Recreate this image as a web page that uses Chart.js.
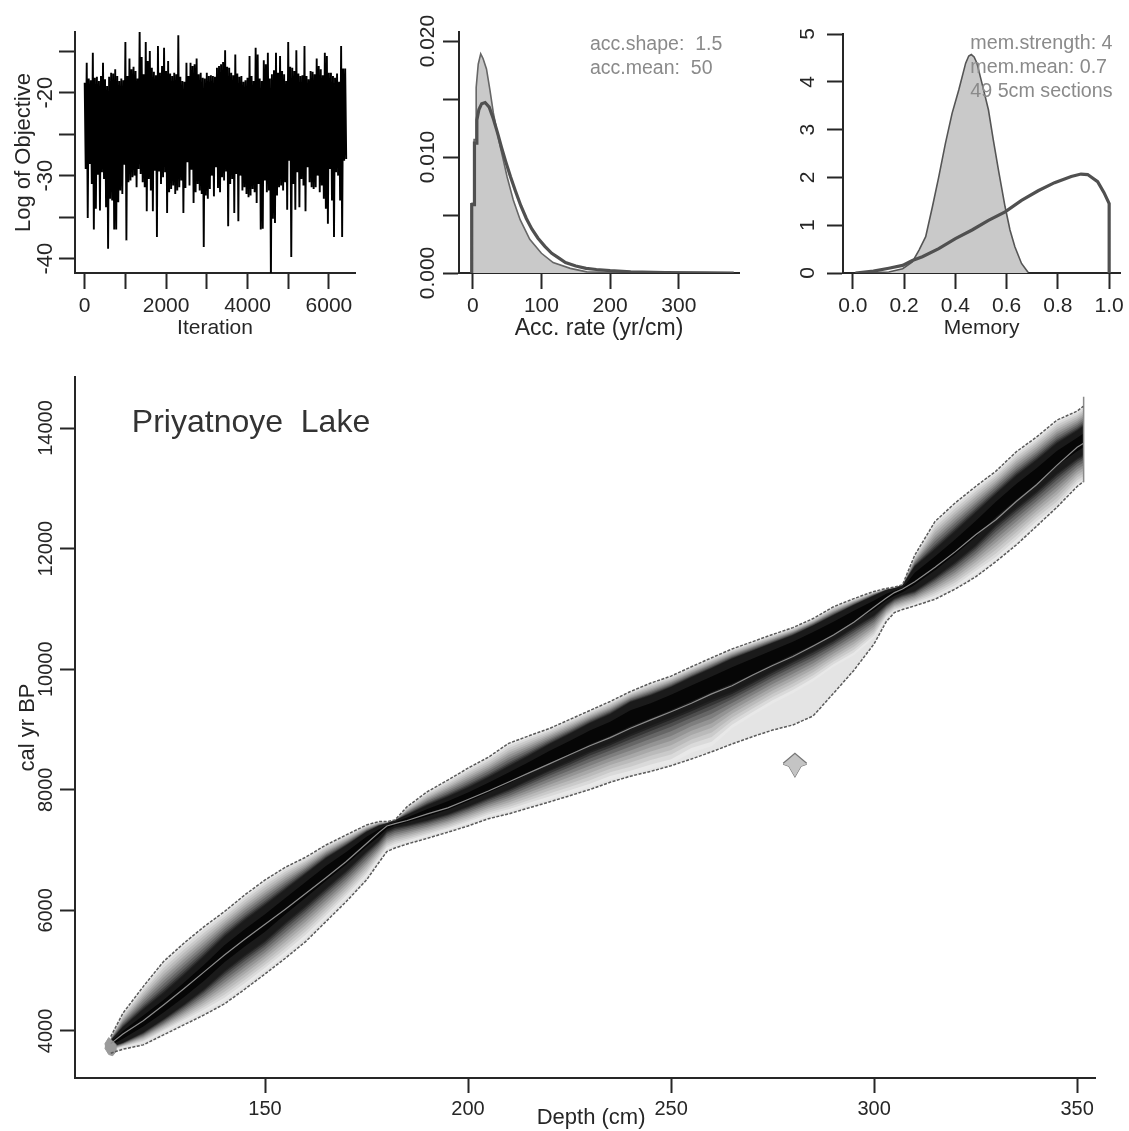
<!DOCTYPE html>
<html>
<head>
<meta charset="utf-8">
<title>Priyatnoye Lake age model</title>
<script src="https://cdn.jsdelivr.net/npm/chart.js@4"></script>
<style>
  html, body { margin: 0; padding: 0; background: #fff; }
  #page { position: relative; width: 1129px; height: 1131px; overflow: hidden; }
  canvas { position: absolute; filter: blur(0.6px); }
</style>
</head>
<body>
<div id="page">
  <canvas id="traceChart" width="370" height="345" style="left:0;top:0"></canvas>
  <canvas id="accChart" width="350" height="345" style="left:400px;top:0"></canvas>
  <canvas id="memChart" width="346" height="345" style="left:783px;top:0"></canvas>
  <canvas id="ageChart" width="1129" height="771" style="left:0;top:360px"></canvas>
</div>
<script>
// log of objective, upper and lower swing every 50 iterations
var traceStep = 50;
var traceHigh = [
  -18.8,-16.4,-18.3,-18.5,-15.2,-18.2,-18.1,-18.6,-18.0,-16.4,
  -18.4,-19.2,-18.1,-17.6,-17.7,-17.2,-18.0,-18.6,-18.3,-18.5,
  -13.9,-18.0,-15.9,-17.2,-16.9,-17.4,-18.3,-12.4,-15.7,-17.8,
  -13.9,-16.2,-15.0,-17.0,-17.5,-17.9,-14.4,-17.6,-16.8,-14.6,
  -17.4,-16.2,-17.7,-18.0,-17.6,-17.8,-13.1,-18.1,-18.6,-18.7,
  -16.4,-18.0,-16.4,-16.8,-16.6,-15.9,-17.8,-17.6,-18.2,-18.3,
  -17.6,-18.0,-17.9,-18.0,-18.1,-17.0,-16.8,-16.6,-16.3,-14.9,
  -16.9,-17.0,-17.6,-17.9,-15.4,-17.7,-18.1,-18.0,-18.7,-18.5,
  -18.2,-15.6,-18.0,-18.6,-14.6,-15.4,-18.3,-18.6,-16.1,-16.6,
  -15.2,-18.3,-17.8,-17.3,-15.2,-17.6,-15.6,-17.4,-17.8,-18.6,
  -13.9,-16.9,-17.0,-17.4,-14.9,-17.7,-18.0,-17.9,-14.4,-18.0,
  -18.4,-17.4,-17.5,-17.8,-15.9,-16.8,-17.2,-17.9,-15.2,-15.6,
  -17.6,-17.6,-18.0,-18.2,-17.7,-18.7,-14.4,-17.1,-17.1
];
var traceLow = [
  -29.2,-35.1,-28.6,-31.0,-36.5,-34.0,-29.9,-34.2,-29.6,-30.4,
  -33.8,-38.8,-32.8,-33.0,-36.5,-36.5,-33.2,-31.8,-32.2,-28.7,
  -37.8,-30.8,-30.6,-30.2,-30.0,-31.4,-29.2,-29.8,-30.8,-31.4,
  -34.3,-30.4,-31.8,-34.3,-29.4,-37.4,-29.5,-31.0,-30.2,-29.6,
  -34.5,-32.0,-31.6,-31.2,-32.2,-31.8,-31.4,-30.6,-34.5,-31.5,
  -28.4,-31.2,-29.3,-33.3,-32.0,-31.0,-31.8,-32.2,-38.6,-32.4,
  -32.8,-31.6,-30.0,-32.5,-29.0,-31.5,-32.0,-30.2,-30.6,-29.5,
  -36.1,-31.0,-30.4,-34.5,-29.8,-35.5,-30.0,-31.8,-31.4,-32.2,
  -32.6,-32.4,-31.6,-32.0,-33.3,-31.0,-36.5,-36.4,-30.6,-32.0,
  -31.8,-42.5,-35.2,-35.7,-32.4,-31.4,-31.2,-31.8,-30.8,-34.1,
  -28.2,-39.8,-31.0,-34.1,-29.6,-33.8,-30.4,-31.2,-34.3,-29.0,
  -30.8,-31.4,-31.6,-31.4,-30.0,-32.0,-31.2,-32.8,-34.0,-35.8,
  -29.2,-33.0,-37.4,-29.6,-30.0,-33.0,-37.4,-28.2,-28.0
];
var iterTicks = [0, 1000, 2000, 3000, 4000, 5000, 6000];
var iterLabels = ['0', '', '2000', '', '4000', '', '6000'];
var objTicks = [-40, -35, -30, -25, -20, -15];
var objLabels = ['-40', '', '-30', '', '-20', ''];

// accumulation rate: posterior histogram and gamma prior
var histRate = [-1, -1, 2, 2, 5, 5, 8, 11.6, 15, 20, 25, 30, 35, 40, 45, 50, 59, 69, 83, 100, 117, 142, 166, 200, 260, 375];
var histDens = [0, .0060, .0060, .0115, .0115, .0160, .0180, .0189, .0185, .0176, .0158, .0138, .0123, .0109, .0096, .0083, .0063, .0046, .0029, .0017, .0009, .0004, .0001, .00005, .00002, 0];
var priorRate = [-1.5, -1.5, 2.5, 2.5, 6, 6, 9, 13, 18, 24, 30, 36, 42, 48, 55, 62, 70, 78, 86, 95, 105, 115, 125, 135, 150, 165, 180, 200, 230, 280, 340, 380];
var priorDens = [0, .0059, .0059, .0112, .0112, .0132, .0141, .0146, .0147, .0143, .0133, .0121, .0108, .0096, .0083, .0071, .0058, .0047, .0038, .0030, .0023, .0017, .0013, .0009, .0006, .0004, .0003, .0002, .0001, .00003, .00001, 0];
var rateTicks = [0, 100, 200, 300];
var rateLabels = ['0', '100', '200', '300'];
var densTicks = [0, .005, .01, .015, .02];
var densLabels = ['0.000', '', '0.010', '', '0.020'];
var accNotes = ['acc.shape:  1.5', 'acc.mean:  50'];

// memory: posterior and beta prior
var postMem = [.01, .08, .14, .194, .232, .258, .284, .31, .335, .361, .387, .413, .44, .452, .462, .473, .484, .51, .529, .548, .568, .594, .613, .632, .658, .684];
var postDens = [0, .01, .02, .09, .23, .48, .76, 1.38, 2.01, 2.71, 3.34, 3.83, 4.39, 4.54, 4.57, 4.52, 4.39, 3.83, 3.41, 2.78, 2.15, 1.38, .9, .55, .2, .01];
var priorMem = [.01, .08, .14, .194, .232, .271, .335, .4, .465, .529, .594, .658, .723, .787, .852, .89, .916, .955, .98, 1, 1];
var priorMemDens = [0, .04, .1, .16, .26, .34, .51, .72, .9, 1.1, 1.28, 1.52, 1.72, 1.89, 2.02, 2.07, 2.06, 1.91, 1.68, 1.45, 0];
var memTicks = [0, .2, .4, .6, .8, 1];
var memLabels = ['0.0', '0.2', '0.4', '0.6', '0.8', '1.0'];
var memDensTicks = [0, 1, 2, 3, 4, 5];
var memDensLabels = ['0', '1', '2', '3', '4', '5'];
var memNotes = ['mem.strength: 4', 'mem.mean: 0.7', '49 5cm sections'];

// age-depth model, all read at the same depths
var depth = [112, 115, 120, 125, 130, 135, 140, 145, 150, 155, 160, 165, 170, 175, 178, 180, 182, 185, 190, 195,
  200, 205, 210, 215, 220, 225, 230, 235, 240, 245, 250, 255, 260, 265, 270, 275, 280, 285, 290, 295,
  300, 303, 305, 307, 310, 315, 320, 325, 330, 335, 340, 345, 350, 351.5];
var ageUpper = [3907, 4294, 4736, 5151, 5455, 5731, 5980, 6256, 6505, 6715, 6881, 7085, 7251, 7417, 7472, 7472, 7500, 7720, 7970, 8160,
  8360, 8540, 8770, 8895, 9015, 9165, 9315, 9465, 9630, 9770, 9885, 10040, 10190, 10335, 10455, 10575, 10690, 10840, 11036, 11170,
  11290, 11340, 11360, 11400, 11890, 12450, 12760, 13030, 13285, 13605, 13850, 14130, 14280, 14360];
var coreTop = [3840, 4060, 4350, 4620, 4920, 5230, 5560, 5830, 6080, 6340, 6600, 6860, 7070, 7300, 7400, 7440, 7490, 7580, 7740, 7880,
  8030, 8200, 8380, 8560, 8750, 8920, 9100, 9250, 9450, 9560, 9700, 9860, 10010, 10170, 10300, 10430, 10560, 10720, 10890, 11060,
  11220, 11310, 11340, 11390, 11700, 11980, 12280, 12590, 12900, 13200, 13460, 13740, 13950, 14020];
var ageMean = [3790, 3950, 4170, 4430, 4700, 4980, 5260, 5520, 5770, 6020, 6280, 6540, 6810, 7110, 7290, 7400, 7440, 7490, 7600, 7700,
  7840, 7980, 8130, 8280, 8430, 8580, 8730, 8865, 9020, 9160, 9295, 9435, 9590, 9725, 9900, 10060, 10210, 10385, 10566, 10780,
  11030, 11180, 11270, 11330, 11450, 11690, 11950, 12230, 12480, 12780, 13060, 13380, 13680, 13744];
var coreBottom = [3740, 3810, 3980, 4200, 4440, 4700, 5000, 5260, 5500, 5800, 6080, 6370, 6660, 6980, 7160, 7320, 7380, 7420, 7500, 7600,
  7730, 7870, 8010, 8170, 8330, 8480, 8640, 8770, 8920, 9060, 9200, 9340, 9490, 9620, 9790, 9970, 10140, 10300, 10480, 10700,
  10900, 11080, 11180, 11240, 11300, 11530, 11780, 12060, 12400, 12680, 12950, 13250, 13500, 13560];
var fadeLower = [3670, 3730, 3810, 3980, 4150, 4320, 4500, 4740, 5000, 5260, 5540, 5870, 6200, 6560, 6830, 7010, 7070, 7130, 7230, 7330,
  7440, 7560, 7640, 7740, 7840, 7940, 8040, 8170, 8250, 8350, 8430, 8620, 8720, 9020, 9230, 9430, 9600, 9800, 10040, 10230,
  10520, 10850, 10960, 11000, 11070, 11190, 11350, 11580, 11800, 12090, 12400, 12660, 13040, 13110];
var ageLower = [3631, 3697, 3769, 3935, 4101, 4266, 4449, 4692, 4946, 5206, 5482, 5814, 6146, 6505, 6790, 6975, 7035, 7100, 7196, 7295,
  7400, 7520, 7600, 7700, 7798, 7900, 8005, 8125, 8225, 8305, 8400, 8510, 8630, 8760, 8880, 8990, 9075, 9225, 9600, 9980,
  10420, 10790, 10940, 10990, 11050, 11160, 11330, 11530, 11785, 12060, 12370, 12685, 13030, 13108];
// calibrated date blobs
var dateDepth = [277.6, 279, 280.5, 282, 283.4];
var dateTop = [8440, 8520, 8604, 8520, 8440];
var dateBottom = [8425, 8390, 8217, 8390, 8425];
var firstDepth = [110.5, 111.5, 112.5, 113.5];
var firstTop = [3780, 3890, 3830, 3760];
var firstBottom = [3720, 3610, 3590, 3680];
var lastDepth = [351.6, 351.6];
var lastAge = [14518, 13100];
var depthTicks = [150, 200, 250, 300, 350];
var depthLabels = ['150', '200', '250', '300', '350'];
var ageTicks = [4000, 6000, 8000, 10000, 12000, 14000];
var ageLabels = ['4000', '6000', '8000', '10000', '12000', '14000'];

// shading of the age density, outer to inner
var shadeSteps = [1, .9, .8, .7, .6, .5, .4, .3, .2, .12, .05];
var shadeGreys = [232, 218, 202, 186, 168, 148, 126, 102, 78, 54, 34];

var FONT = '"Liberation Sans", Arial, sans-serif';
var INK = '#262626';

function pts(xs, ys) {
  return xs.map(function (x, i) { return { x: x, y: ys[i] }; });
}

function between(a, b, f) {
  return a.map(function (v, i) { return v + (b[i] - v) * f; });
}

function line(data, color, width, extra) {
  return Object.assign({ data: data, borderColor: color, borderWidth: width, pointRadius: 0, fill: false, tension: 0 }, extra || {});
}

function axis(cfg) {
  var vertical = cfg.vertical;
  return {
    type: 'linear',
    min: cfg.min,
    max: cfg.max,
    afterFit: function (s) {
      if (vertical) s.width = cfg.size; else s.height = cfg.size;
    },
    afterBuildTicks: function (s) {
      s.ticks = cfg.ticks.map(function (v) { return { value: v }; });
    },
    border: { display: true, color: INK, width: 2 },
    grid: { display: true, drawOnChartArea: false, drawTicks: true, tickLength: cfg.tick, tickWidth: 2, tickColor: INK },
    ticks: {
      autoSkip: false,
      color: INK,
      font: { family: FONT, size: cfg.font },
      padding: cfg.pad,
      minRotation: vertical ? 90 : 0,
      maxRotation: vertical ? 90 : 0,
      crossAlign: vertical ? 'center' : 'near',
      callback: function (v, i) { return cfg.labels[i]; }
    },
    title: {
      display: !!cfg.title,
      text: cfg.title,
      color: INK,
      font: { family: FONT, size: cfg.titleFont || cfg.font },
      padding: cfg.titlePad || 0
    }
  };
}

// text inside the panels, placed through the chart's scales
function notes(id, lines, x, y, step, size, color) {
  return {
    id: id,
    afterDraw: function (chart) {
      var ctx = chart.ctx;
      var px = chart.scales.x.getPixelForValue(x);
      var py = chart.scales.y.getPixelForValue(y);
      ctx.save();
      ctx.font = size + 'px ' + FONT;
      ctx.fillStyle = color;
      ctx.textBaseline = 'middle';
      lines.forEach(function (t, i) { ctx.fillText(t, px, py + i * step); });
      ctx.restore();
    }
  };
}

function draw(id, datasets, x, y, padding, plugins) {
  return new Chart(document.getElementById(id), {
    type: 'line',
    data: { datasets: datasets },
    plugins: plugins || [],
    options: {
      responsive: false,
      animation: false,
      layout: { padding: padding },
      plugins: { legend: { display: false }, tooltip: { enabled: false }, title: { display: false } },
      scales: { x: x, y: y }
    }
  });
}

// trace panel
var tracePoints = [];
traceHigh.forEach(function (v, i) {
  tracePoints.push({ x: i * traceStep, y: v });
  tracePoints.push({ x: i * traceStep + traceStep / 2, y: traceLow[i] });
});
draw('traceChart',
  [line(tracePoints, '#000', 1.9)],
  axis({ min: -238, max: 6641, ticks: iterTicks, labels: iterLabels, size: 72, tick: 16, font: 21, pad: 5, title: 'Iteration', titlePad: 4 }),
  axis({ vertical: true, min: -41.73, max: -12.7, ticks: objTicks, labels: objLabels, size: 75, tick: 16, font: 22, pad: -3, title: 'Log of Objective', titleFont: 22, titlePad: 11 }),
  { top: 32, right: 15 });

// accumulation rate panel
draw('accChart',
  [
    line(pts(priorRate, priorDens), '#505050', 3.2),
    line(pts(histRate, histDens), '#666', 1.6, { fill: 'origin', backgroundColor: '#c9c9c9' })
  ],
  axis({ min: -20, max: 387.6, ticks: rateTicks, labels: rateLabels, size: 72, tick: 16, font: 21, pad: 5, title: 'Acc. rate (yr/cm)', titleFont: 23, titlePad: 3 }),
  axis({ vertical: true, min: 0, max: .02078, ticks: densTicks, labels: densLabels, size: 59, tick: 16, font: 21, pad: -11 }),
  { top: 32, right: 11 },
  [notes('accNotes', accNotes, 170.7, .0197, 24, 19.5, '#8a8a8a')]);

// memory panel
draw('memChart',
  [
    line(pts(priorMem, priorMemDens), '#505050', 3.2),
    line(pts(postMem, postDens), '#555', 1.6, { fill: 'origin', backgroundColor: '#c9c9c9' })
  ],
  axis({ min: -.0387, max: 1.0437, ticks: memTicks, labels: memLabels, size: 72, tick: 16, font: 21, pad: 5, title: 'Memory', titlePad: 4 }),
  axis({ vertical: true, min: 0, max: 5, ticks: memDensTicks, labels: memDensLabels, size: 60, tick: 16, font: 21, pad: 13 }),
  { top: 34, right: 6 },
  [notes('memNotes', memNotes, .458, 4.79, 24, 19.7, '#8a8a8a')]);

// age-depth panel: first dataset ends up on top, so shading goes last and inner first
var ageSets = [
  line(pts(depth, ageMean), '#8c8c8c', 1.2),
  line(pts(depth, ageUpper), '#5a5a5a', 1.5, { borderDash: [3, 1.5] }),
  line(pts(depth, ageLower), '#5a5a5a', 1.5, { borderDash: [3, 1.5] }),
  line(pts(lastDepth, lastAge), '#8a8a8a', 1.5),
  line(pts(dateDepth, dateTop), '#777', 1.2, { fill: '+1', backgroundColor: '#c4c4c4' }),
  line(pts(dateDepth, dateBottom), '#777', 1.2),
  line(pts(firstDepth, firstTop), '#999', 1, { fill: '+1', backgroundColor: '#9a9a9a' }),
  line(pts(firstDepth, firstBottom), '#999', 1),
  line(pts(depth, between(coreTop, coreBottom, .25)), 'rgba(0,0,0,0)', 0, { fill: '+1', backgroundColor: '#060606' }),
  line(pts(depth, between(coreBottom, coreTop, .25)), 'rgba(0,0,0,0)', 0),
  line(pts(depth, coreTop), 'rgba(0,0,0,0)', 0, { fill: '+1', backgroundColor: '#1a1a1a' }),
  line(pts(depth, coreBottom), 'rgba(0,0,0,0)', 0)
];
for (var k = shadeSteps.length - 1; k >= 0; k--) {
  var g = shadeGreys[k];
  var shade = 'rgb(' + g + ',' + g + ',' + g + ')';
  ageSets.push(line(pts(depth, between(coreTop, ageUpper, shadeSteps[k])), 'rgba(0,0,0,0)', 0, { fill: '+1', backgroundColor: shade }));
  ageSets.push(line(pts(depth, between(coreBottom, fadeLower, shadeSteps[k])), 'rgba(0,0,0,0)', 0));
}
ageSets.push(line(pts(depth, ageUpper), 'rgba(0,0,0,0)', 0, { fill: '+1', backgroundColor: '#e4e4e4' }));
ageSets.push(line(pts(depth, ageLower), 'rgba(0,0,0,0)', 0));

draw('ageChart',
  ageSets,
  axis({ min: 103.2, max: 354.4, ticks: depthTicks, labels: depthLabels, size: 53, tick: 15, font: 20, pad: 4, title: '  Depth (cm)', titleFont: 22, titlePad: 0 }),
  axis({ vertical: true, min: 3220, max: 14846, ticks: ageTicks, labels: ageLabels, size: 75, tick: 15, font: 20, pad: -14, title: 'cal yr BP', titleFont: 22, titlePad: 15 }),
  { top: 17, right: 34 },
  [notes('siteName', ['Priyatnoye  Lake'], 117.2, 14083, 0, 32, '#333')]);
</script>
</body>
</html>
